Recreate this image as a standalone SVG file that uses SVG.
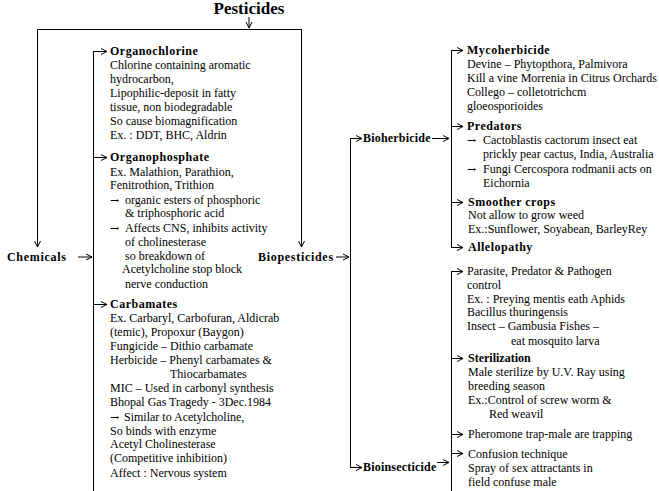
<svg xmlns="http://www.w3.org/2000/svg" width="659" height="491" viewBox="0 0 659 491">
<defs>
<style>
text{font-family:"Liberation Serif","Times New Roman",serif;font-size:12px;fill:#000}
.b{font-weight:bold}
.h{font-weight:bold;letter-spacing:0.5px}
.ar{font-family:"DejaVu Serif",serif;font-size:11px}
.c{stroke:#000;stroke-width:1;fill:none}
</style>
<marker id="arr" viewBox="0 0 8 8" refX="7.5" refY="4" markerWidth="8" markerHeight="8" markerUnits="userSpaceOnUse" orient="auto">
<path d="M1.5,1 L7.5,4 L1.5,7" fill="none" stroke="#000" stroke-width="1"/>
</marker>
</defs>
<rect width="659" height="491" fill="#fff"/>

<g id="connectors">
<line class="c" x1="249" y1="17" x2="249" y2="28" marker-end="url(#arr)"/>
<line class="c" x1="37" y1="29.5" x2="301.5" y2="29.5"/>
<line class="c" x1="37.5" y1="29" x2="37.5" y2="247" marker-end="url(#arr)"/>
<line class="c" x1="301.5" y1="29" x2="301.5" y2="247" marker-end="url(#arr)"/>
<line class="c" x1="78" y1="257" x2="92" y2="257" marker-end="url(#arr)"/>
<line class="c" x1="93.5" y1="51" x2="93.5" y2="491"/>
<line class="c" x1="93" y1="51.5" x2="107" y2="51.5" marker-end="url(#arr)"/>
<line class="c" x1="93" y1="157.5" x2="107" y2="157.5" marker-end="url(#arr)"/>
<line class="c" x1="93" y1="304.5" x2="107" y2="304.5" marker-end="url(#arr)"/>
<line class="c" x1="336" y1="257" x2="349" y2="257" marker-end="url(#arr)"/>
<line class="c" x1="350.5" y1="138" x2="350.5" y2="467"/>
<line class="c" x1="350" y1="138.5" x2="362" y2="138.5" marker-end="url(#arr)"/>
<line class="c" x1="350" y1="467.5" x2="362" y2="467.5" marker-end="url(#arr)"/>
<line class="c" x1="432" y1="138.5" x2="449" y2="138.5" marker-end="url(#arr)"/>
<line class="c" x1="451.5" y1="50" x2="451.5" y2="247"/>
<line class="c" x1="451" y1="50.5" x2="463" y2="50.5" marker-end="url(#arr)"/>
<line class="c" x1="451" y1="126.5" x2="463" y2="126.5" marker-end="url(#arr)"/>
<line class="c" x1="451" y1="202.5" x2="463" y2="202.5" marker-end="url(#arr)"/>
<line class="c" x1="451" y1="247.5" x2="463" y2="247.5" marker-end="url(#arr)"/>
<line class="c" x1="437" y1="462.5" x2="449" y2="462.5" marker-end="url(#arr)"/>
<line class="c" x1="451.5" y1="271" x2="451.5" y2="491"/>
<line class="c" x1="451" y1="271.5" x2="463" y2="271.5" marker-end="url(#arr)"/>
<line class="c" x1="451" y1="358.5" x2="463" y2="358.5" marker-end="url(#arr)"/>
<line class="c" x1="451" y1="434.5" x2="463" y2="434.5" marker-end="url(#arr)"/>
<line class="c" x1="451" y1="453.5" x2="463" y2="453.5" marker-end="url(#arr)"/>
</g>

<g id="pesticides">
<text x="249" y="14" class="b" style="font-size:17px" text-anchor="middle">Pesticides</text>
</g>

<g id="chemicals">
<text x="7" y="261" class="h" style="letter-spacing:0.7px">Chemicals</text>
</g>

<g id="biopesticides">
<text x="258" y="261" class="h" style="letter-spacing:0.7px">Biopesticides</text>
</g>

<g id="organochlorine">
<text x="110" y="55" class="h">Organochlorine</text>
<text x="110" y="69">Chlorine containing aromatic</text>
<text x="110" y="83">hydrocarbon,</text>
<text x="110" y="97">Lipophilic-deposit in fatty</text>
<text x="110" y="111">tissue, non biodegradable</text>
<text x="110" y="125">So cause biomagnification</text>
<text x="110" y="139">Ex. : DDT, BHC, Aldrin</text>
</g>

<g id="organophosphate">
<text x="110" y="161" class="h">Organophosphate</text>
<text x="110" y="176">Ex. Malathion, Parathion,</text>
<text x="110" y="189">Fenitrothion, Trithion</text>
<text x="110" y="204"><tspan class="ar">→</tspan><tspan x="125">organic esters of phosphoric</tspan></text>
<text x="125" y="217">&amp; triphosphoric acid</text>
<text x="110" y="232"><tspan class="ar">→</tspan><tspan x="125">Affects CNS, inhibits activity</tspan></text>
<text x="125" y="246">of cholinesterase</text>
<text x="125" y="260">so breakdown of</text>
<text x="122" y="273">Acetylcholine stop block</text>
<text x="125" y="288">nerve conduction</text>
</g>

<g id="carbamates">
<text x="110" y="308" class="h">Carbamates</text>
<text x="110" y="322">Ex. Carbaryl, Carbofuran, Aldicrab</text>
<text x="110" y="336">(temic), Propoxur (Baygon)</text>
<text x="110" y="350">Fungicide – Dithio carbamate</text>
<text x="110" y="364">Herbicide – Phenyl carbamates &amp;</text>
<text x="170" y="378">Thiocarbamates</text>
<text x="110" y="392">MIC – Used in carbonyl synthesis</text>
<text x="110" y="406">Bhopal Gas Tragedy - 3Dec.1984</text>
<text x="110" y="421"><tspan class="ar">→</tspan><tspan x="124">Similar to Acetylcholine,</tspan></text>
<text x="110" y="435">So binds with enzyme</text>
<text x="110" y="448">Acetyl Cholinesterase</text>
<text x="110" y="462">(Competitive inhibition)</text>
<text x="110" y="477">Affect : Nervous system</text>
</g>

<g id="bioherbicide">
<text x="363" y="142" class="h" style="letter-spacing:0.2px">Bioherbicide</text>
</g>

<g id="bioinsecticide">
<text x="363" y="471" class="h" style="letter-spacing:0.2px">Bioinsecticide</text>
</g>

<g id="mycoherbicide">
<text x="467" y="54" class="h">Mycoherbicide</text>
<text x="467" y="68">Devine – Phytopthora, Palmivora</text>
<text x="467" y="82">Kill a vine Morrenia in Citrus Orchards</text>
<text x="467" y="96">Collego – colletotrichcm</text>
<text x="467" y="110">gloeosporioides</text>
</g>

<g id="predators">
<text x="467" y="130" class="h">Predators</text>
<text x="467" y="144"><tspan class="ar">→</tspan><tspan x="483">Cactoblastis cactorum insect eat</tspan></text>
<text x="483" y="158">prickly pear cactus, India, Australia</text>
<text x="467" y="173"><tspan class="ar">→</tspan><tspan x="483">Fungi Cercospora rodmanii acts on</tspan></text>
<text x="483" y="187">Eichornia</text>
</g>

<g id="smoother-crops">
<text x="468" y="206" class="h">Smoother crops</text>
<text x="468" y="219">Not allow to grow weed</text>
<text x="468" y="233">Ex.:Sunflower, Soyabean, BarleyRey</text>
</g>

<g id="allelopathy">
<text x="468" y="251" class="h">Allelopathy</text>
</g>

<g id="parasite">
<text x="467" y="275">Parasite, Predator &amp; Pathogen</text>
<text x="467" y="289">control</text>
<text x="467" y="303">Ex. : Preying mentis eath Aphids</text>
<text x="467" y="316">Bacillus thuringensis</text>
<text x="467" y="330">Insect – Gambusia Fishes –</text>
<text x="511" y="345">eat mosquito larva</text>
</g>

<g id="sterilization">
<text x="468" y="362" class="b">Sterilization</text>
<text x="468" y="376">Male sterilize by U.V. Ray using</text>
<text x="468" y="390">breeding season</text>
<text x="468" y="404">Ex.:Control of screw worm &amp;</text>
<text x="489" y="418">Red weavil</text>
</g>

<g id="pheromone">
<text x="468" y="438">Pheromone trap-male are trapping</text>
</g>

<g id="confusion">
<text x="468" y="458">Confusion technique</text>
<text x="468" y="472">Spray of sex attractants in</text>
<text x="468" y="486">field confuse male</text>
</g>
</svg>
